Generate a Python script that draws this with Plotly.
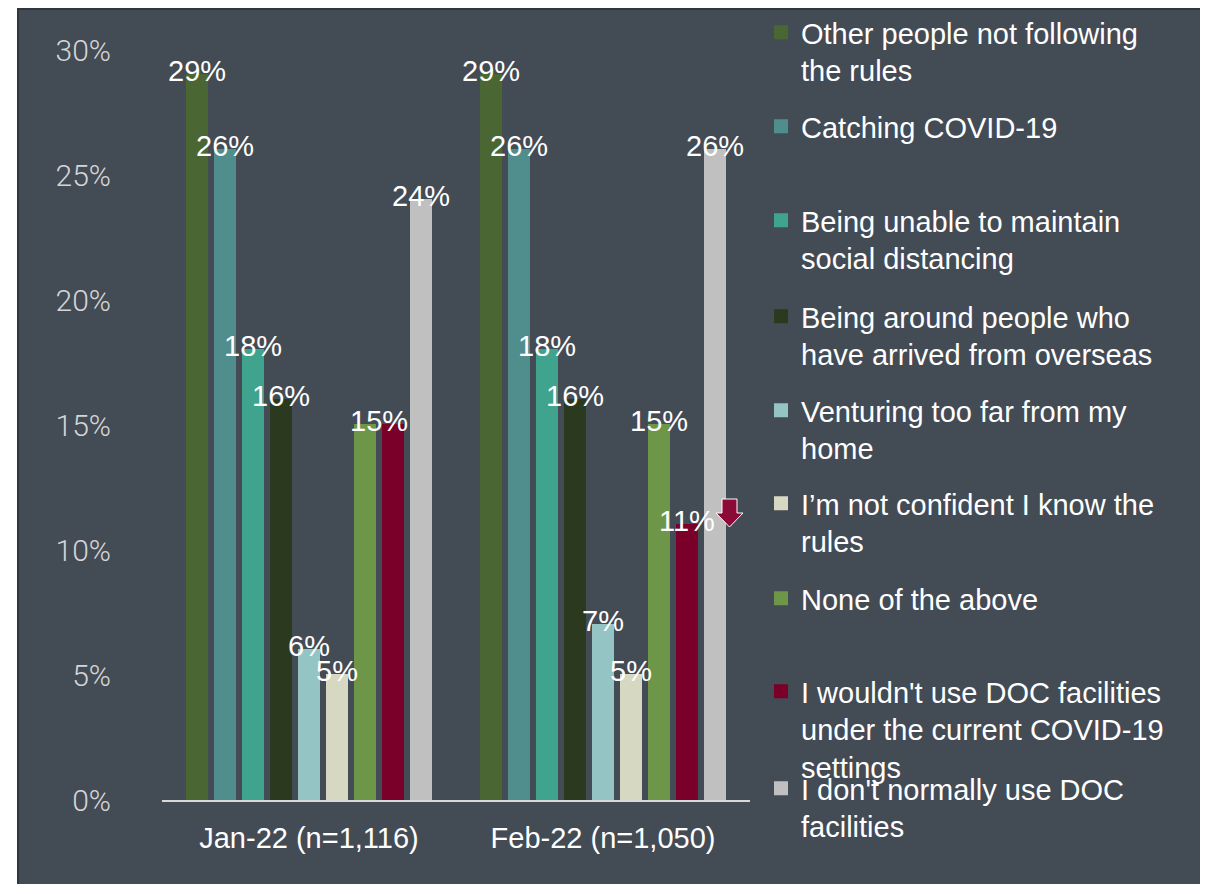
import plotly.graph_objects as go

# ---------------- data ----------------
categories = ["Jan-22 (n=1,116)", "Feb-22 (n=1,050)"]

series_names = [
    "Other people not following<br>the rules",
    "Catching COVID-19",
    "Being unable to maintain<br>social distancing",
    "Being around people who<br>have arrived from overseas",
    "Venturing too far from my<br>home",
    "I\u2019m not confident I know the<br>rules",
    "None of the above",
    "I wouldn't use DOC facilities<br>under the current COVID-19<br>settings",
    "I don't normally use DOC<br>facilities",
]

other_people = [29, 29]
catching_covid = [26, 26]
unable_distancing = [18, 18]
around_overseas = [16, 16]
venturing_far = [6, 7]
not_confident = [5, 5]
none_of_above = [15, 15]
wouldnt_use = [15, 11]
dont_normally_use = [24, 26]

series_values = [other_people, catching_covid, unable_distancing, around_overseas,
                 venturing_far, not_confident, none_of_above, wouldnt_use, dont_normally_use]

colors = ["#4a6733", "#508e8e", "#3fa38e", "#2b3a1f", "#94c4c4",
          "#d6d8c2", "#6e9649", "#7a0029", "#c0c0c0"]

y_ticks = [0, 5, 10, 15, 20, 25, 30]

# ---------------- layout constants ----------------
# page body has an 8px margin, so figure coords = target px - 8
OFF = 8
W, H = 1200, 876
ML, MR, MT, MB = 154, 458, 42, 84
PW = W - ML - MR
PH = H - MT - MB
SLOT = 28  # px pitch of bars inside a group
BG = "#434b55"
FONT = "Liberation Sans, Arial, sans-serif"


def px2xp(px):
    return (px - OFF - ML) / PW


def py2yp(py):
    return (H - MB - (py - OFF)) / PH


fig = go.Figure()
legend_first_line = [34, 128, 222, 318, 412, 505, 600, 693, 790]
n = len(series_values)

for k, (name, vals, col) in enumerate(zip(series_names, series_values, colors)):
    lg = "legend" if k == 0 else f"legend{k + 1}"
    fig.add_trace(go.Bar(
        x=categories, y=vals, name=name,
        marker=dict(color=col, line=dict(color=col, width=2)),
        legend=lg, hoverinfo="skip",
    ))
    fig.layout[lg] = dict(
        x=px2xp(761), y=py2yp(legend_first_line[k] - 27),
        xanchor="left", yanchor="top", valign="top",
        bgcolor="rgba(0,0,0,0)", borderwidth=0,
        font=dict(family=FONT, size=29, color="#ffffff"),
        itemclick=False, itemdoubleclick=False,
    )

# data labels (adjacent equal values share one centred label)
for j, cat in enumerate(categories):
    for k in range(n):
        v = series_values[k][j]
        if k > 0 and series_values[k - 1][j] == v:
            continue
        shift = (k - (n - 1) / 2) * SLOT
        if k < n - 1 and series_values[k + 1][j] == v:
            shift += SLOT / 2
        fig.add_annotation(
            x=cat, y=v, xref="x", yref="y", text=f"{v}%",
            showarrow=False, xanchor="center", yanchor="middle",
            xshift=shift, yshift=4,
            font=dict(family=FONT, size=29, color="#ffffff"),
        )

shapes = [
    # slate panel behind everything
    dict(type="rect", xref="paper", yref="paper", layer="below",
         x0=px2xp(18), x1=px2xp(1204), y0=py2yp(900), y1=py2yp(9),
         fillcolor=BG, line=dict(color="#30363d", width=2)),
    # significant-decrease arrow beside the Feb crimson bar
    dict(type="path", xref="x", yref="y", xsizemode="pixel", ysizemode="pixel",
         xanchor=1, yanchor=wouldnt_use[1],
         path="M119,26 L134,26 L134,12 L140,12 L126.5,-2 L113,12 L119,12 Z",
         fillcolor="#8c0a36", line=dict(color="#ffffff", width=1), layer="above"),
]

fig.update_layout(
    width=W, height=H,
    margin=dict(l=ML, r=MR, t=MT, b=MB, pad=0, autoexpand=False),
    paper_bgcolor="#ffffff", plot_bgcolor="rgba(0,0,0,0)",
    barmode="group", bargap=42 / 294, bargroupgap=8 / 28,
    showlegend=True,
    shapes=shapes,
    xaxis=dict(
        showline=True, linecolor="#d9d9d9", linewidth=2,
        showgrid=False, zeroline=False, ticks="",
        tickfont=dict(family=FONT, size=29, color="#ffffff"),
        ticklabelstandoff=11,
    ),
    yaxis=dict(
        range=[0, 30], tickvals=y_ticks, ticktext=[f"{t}%" for t in y_ticks],
        showgrid=False, zeroline=False, showline=False, ticks="",
        tickfont=dict(family="Roboto", size=30, color="#d4d6d8", weight=300),
        ticklabelstandoff=50,
    ),
)

fig.write_html("out.html")
